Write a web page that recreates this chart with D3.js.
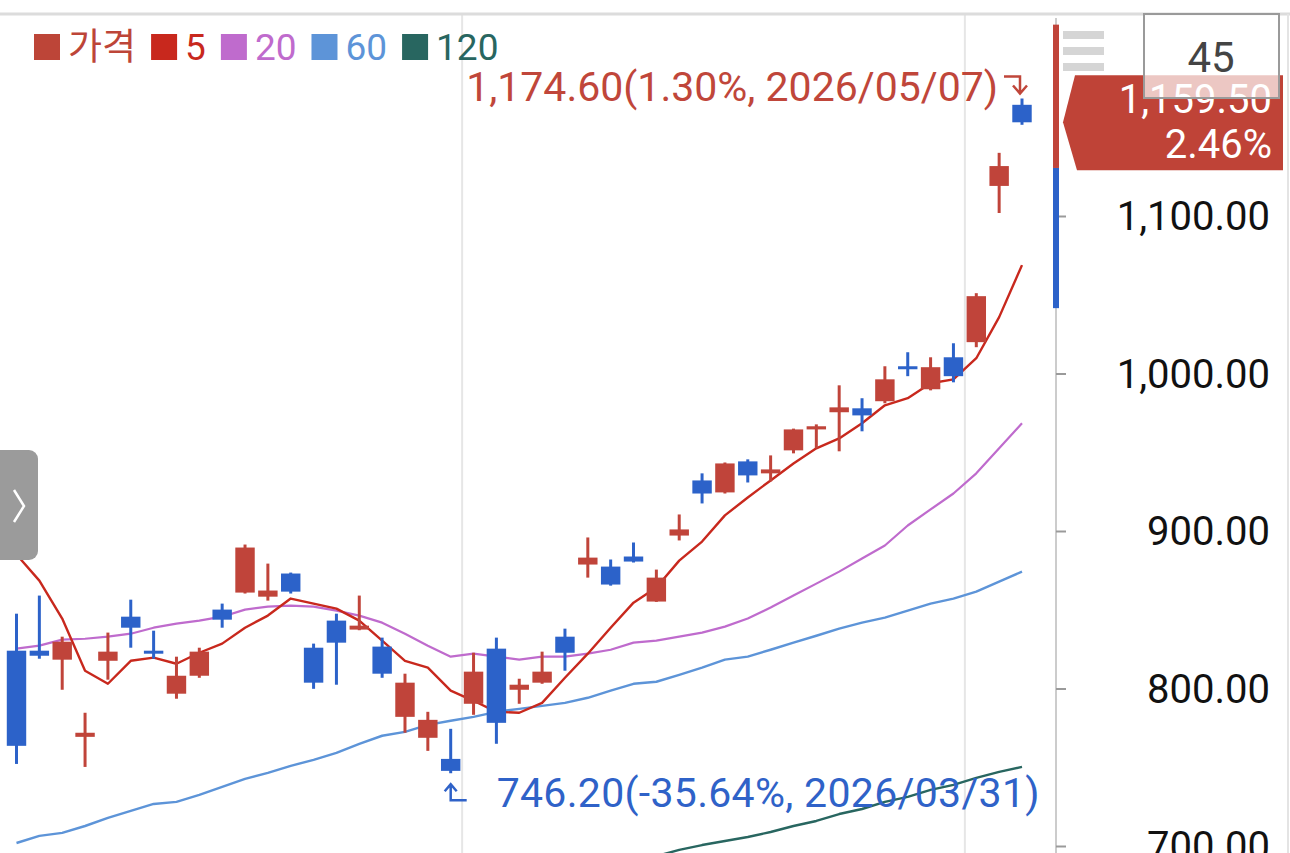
<!DOCTYPE html>
<html>
<head>
<meta charset="utf-8">
<script src="https://cdn.jsdelivr.net/npm/d3@7"></script>
<style>
  html, body { margin: 0; padding: 0; background: #fff; }
  text { font-family: Roboto, "Noto Sans CJK KR", "Noto Sans", sans-serif; }
</style>
</head>
<body>
<div id="canvas"></div>
<script>
"use strict"

let svgWidth = 1290
let svgHeight = 853

// trading days shown (45 candles)
let dates = ["2026-03-04", "2026-03-05", "2026-03-06", "2026-03-09", "2026-03-10", "2026-03-11", "2026-03-12", "2026-03-13",
    "2026-03-16", "2026-03-17", "2026-03-18", "2026-03-19", "2026-03-20", "2026-03-23", "2026-03-24", "2026-03-25",
    "2026-03-26", "2026-03-27", "2026-03-30", "2026-03-31", "2026-04-01", "2026-04-02", "2026-04-03", "2026-04-06",
    "2026-04-07", "2026-04-08", "2026-04-09", "2026-04-10", "2026-04-13", "2026-04-14", "2026-04-15", "2026-04-16",
    "2026-04-17", "2026-04-20", "2026-04-21", "2026-04-22", "2026-04-23", "2026-04-24", "2026-04-27", "2026-04-28",
    "2026-04-29", "2026-04-30", "2026-05-04", "2026-05-06", "2026-05-07"]

let opens = [824.0, 824.0, 818.3, 769.3, 817.6, 845.6, 824.0, 796.7, 808.1, 850.1, 860.9, 858.3, 873.0, 825.9, 843.1,
    837.4, 826.6, 782.0, 768.7, 755.3, 790.3, 825.3, 799.2, 803.7, 832.9, 878.7, 877.4, 883.8, 855.2, 897.1,
    932.1, 924.5, 944.2, 936.6, 951.2, 964.5, 975.4, 977.9, 982.4, 1004.6, 990.0, 1010.3, 1019.9, 1119.1, 1170.6]
let highs = [847.5, 859.0, 832.9, 784.6, 835.5, 856.4, 836.7, 820.2, 825.9, 853.9, 891.4, 879.3, 873.6, 828.5, 847.5,
    859.0, 832.3, 809.4, 785.2, 774.4, 822.7, 832.3, 806.2, 823.4, 838.0, 895.9, 881.9, 892.7, 875.5, 910.5,
    936.6, 943.5, 945.5, 948.0, 965.0, 967.7, 992.5, 984.3, 1004.6, 1013.5, 1010.3, 1019.2, 1051.0, 1140.1, 1174.6]
let lows = [752.1, 818.9, 799.2, 750.2, 805.6, 825.9, 818.9, 793.5, 806.8, 838.6, 860.3, 855.8, 860.3, 799.8, 802.4,
    837.0, 806.8, 771.9, 760.4, 746.2, 783.3, 764.9, 790.3, 803.0, 811.3, 870.4, 865.3, 880.0, 855.0, 894.0,
    917.5, 923.8, 930.8, 931.5, 949.3, 952.5, 950.6, 963.3, 981.1, 998.3, 989.3, 994.4, 1016.7, 1101.9, 1157.9]
let closes = [763.6, 820.8, 829.7, 771.9, 823.4, 838.6, 822.1, 808.1, 823.4, 843.7, 889.5, 862.2, 861.5, 803.7, 829.1,
    839.9, 809.4, 803.7, 780.1, 747.7, 810.7, 778.2, 802.4, 810.7, 822.7, 883.1, 866.0, 880.6, 870.4, 901.0,
    923.8, 942.9, 935.3, 939.1, 964.5, 966.5, 978.5, 973.4, 996.3, 1002.7, 1004.0, 998.3, 1049.1, 1131.7, 1159.5]

// moving averages
let ma5 = [885.1, 868.5, 844.4, 811.3, 803.0, 817.6, 819.6, 815.7, 822.7, 828.5, 838.6, 846.3, 857.1, 853.9, 850.7,
    843.1, 830.4, 817.6, 813.2, 798.6, 792.2, 785.2, 784.6, 790.9, 806.8, 822.1, 838.6, 854.5, 864.1, 881.2,
    893.3, 909.9, 921.3, 932.1, 942.9, 952.5, 958.8, 968.4, 979.8, 984.3, 993.8, 996.3, 1009.7, 1035.8, 1068.8]
let ma20 = [825.3, 827.2, 831.0, 831.6, 832.9, 834.8, 838.6, 841.2, 843.1, 845.6, 850.1, 852.0, 852.6, 852.0, 849.4,
    846.3, 841.8, 834.8, 827.2, 820.2, 822.1, 820.2, 818.3, 820.2, 820.2, 822.1, 824.6, 829.1, 830.4, 832.9,
    835.5, 839.3, 844.4, 851.4, 859.0, 866.6, 874.2, 882.5, 890.8, 903.5, 913.7, 923.8, 936.6, 952.5, 968.4]
let ma60 = [701.9, 706.4, 708.3, 712.7, 717.8, 722.3, 726.7, 728.0, 732.4, 737.5, 742.6, 746.4, 750.9, 754.7, 759.1,
    764.9, 770.0, 772.5, 776.9, 779.5, 782.0, 785.2, 787.1, 789.0, 790.9, 794.1, 798.6, 803.0, 804.3, 808.7,
    813.2, 818.3, 820.2, 824.6, 829.1, 833.5, 838.0, 841.8, 845.0, 849.4, 853.9, 857.1, 861.5, 867.9, 874.2]
let ma120 = [null, null, null, null, null, null, null, null, null, null, null, null, null, null, null,
    null, null, null, null, null, null, null, null, null, null, null, 686.6, 689.8, 693.6, 697.5,
    700.6, 703.2, 705.7, 708.9, 712.7, 715.9, 720.3, 723.5, 728.0, 731.2, 735.6, 738.8, 743.2, 747.1, 750.2]

let yTicks = [700, 800, 900, 1000, 1100]

let legendNames = ["가격", "5", "20", "60", "120"]
let legendColors = ["#bd4538", "#c8281d", "#bf6bcd", "#5d94d8", "#286660"]

// side bar (blue / red split) next to the axis
let sideBar = [
    { from: 1041.5, to: 1130.5, up: false },
    { from: 1130.5, to: 1221.5, up: true }
]

let periodCount = "45"

let upColor = "#c0443a"
let downColor = "#2c62c9"

let svg = d3.select("#canvas")
    .append("svg")
    .attr("width", svgWidth)
    .attr("height", svgHeight)

svg.append("rect")
    .attr("width", svgWidth)
    .attr("height", svgHeight)
    .attr("fill", "#fff")

// scales
let xScale = d3.scalePoint()
    .domain(dates)
    .range([16.5, 1022])

let step = xScale.step()
let bodyWidth = step * 0.85

let yScale = d3.scaleLinear()
    .domain([700, 1100])
    .range([846, 216])

let candles = dates.map(function (d, i) {
    return { date: d, open: opens[i], high: highs[i], low: lows[i], close: closes[i] }
})

// month separators
let gridGroup = svg.append("g")
for (let i = 1; i < dates.length; i++) {
    if (dates[i].slice(5, 7) !== dates[i - 1].slice(5, 7)) {
        let gx = (xScale(dates[i - 1]) + xScale(dates[i])) / 2
        gridGroup.append("line")
            .attr("x1", gx).attr("x2", gx)
            .attr("y1", 14).attr("y2", svgHeight)
            .attr("stroke", "#e6e6e6")
            .attr("stroke-width", 2)
    }
}

// top border
svg.append("line")
    .attr("x1", 0).attr("x2", svgWidth)
    .attr("y1", 14).attr("y2", 14)
    .attr("stroke", "#dcdcdc")
    .attr("stroke-width", 3)

// right edge line
svg.append("line")
    .attr("x1", 1288).attr("x2", 1288)
    .attr("y1", 14).attr("y2", svgHeight)
    .attr("stroke", "#e4e4e4")
    .attr("stroke-width", 2)

// right axis
let axisX = 1056
svg.append("line")
    .attr("x1", axisX).attr("x2", axisX)
    .attr("y1", 18).attr("y2", svgHeight)
    .attr("stroke", "#cccccc")
    .attr("stroke-width", 2)

let axis = d3.axisRight(yScale)
    .tickValues(yTicks)
    .tickSize(10)
    .tickFormat("")

let axisG = svg.append("g")
    .attr("transform", `translate(${axisX},0)`)
    .call(axis)
axisG.select(".domain").remove()
axisG.selectAll(".tick line")
    .attr("stroke", "#9a9a9a")
    .attr("stroke-width", 2)

let fmt = d3.format(",.2f")
svg.selectAll("text.ylabel")
    .data(yTicks)
    .join("text")
    .attr("class", "ylabel")
    .attr("x", 1270)
    .attr("y", function (d) { return yScale(d) })
    .attr("dy", "0.36em")
    .attr("text-anchor", "end")
    .attr("font-size", 40)
    .attr("fill", "#111")
    .text(function (d) { return fmt(d) })

// side bar
svg.selectAll("rect.sidebar")
    .data(sideBar)
    .join("rect")
    .attr("class", "sidebar")
    .attr("x", axisX - 3)
    .attr("width", 6)
    .attr("y", function (d) { return yScale(d.to) })
    .attr("height", function (d) { return yScale(d.from) - yScale(d.to) })
    .attr("fill", function (d) { return d.up ? upColor : downColor })

// chart area clip
svg.append("clipPath")
    .attr("id", "plotClip")
    .append("rect")
    .attr("x", 0).attr("y", 16)
    .attr("width", 1050).attr("height", svgHeight - 16)

let plot = svg.append("g").attr("clip-path", "url(#plotClip)")

// moving averages
let lineGen = d3.line()
    .defined(function (d) { return d.v != null })
    .x(function (d) { return xScale(d.date) })
    .y(function (d) { return yScale(d.v) })

let maSeries = [
    { values: ma120, color: legendColors[4], width: 2.4 },
    { values: ma60, color: legendColors[3], width: 2.4 },
    { values: ma20, color: legendColors[2], width: 2.2 },
    { values: ma5, color: legendColors[1], width: 2.4 }
]

maSeries.forEach(function (s) {
    let pts = dates.map(function (d, i) { return { date: d, v: s.values[i] } })
    plot.append("path")
        .attr("d", lineGen(pts))
        .attr("fill", "none")
        .attr("stroke", s.color)
        .attr("stroke-width", s.width)
        .attr("stroke-linejoin", "round")
})

// candles
let candleG = plot.selectAll("g.candle")
    .data(candles)
    .join("g")
    .attr("class", "candle")

candleG.append("line")
    .attr("x1", function (d) { return xScale(d.date) })
    .attr("x2", function (d) { return xScale(d.date) })
    .attr("y1", function (d) { return yScale(d.high) })
    .attr("y2", function (d) { return yScale(d.low) })
    .attr("stroke", function (d) { return d.close >= d.open ? upColor : downColor })
    .attr("stroke-width", 3)

candleG.append("rect")
    .attr("x", function (d) { return xScale(d.date) - bodyWidth / 2 })
    .attr("width", bodyWidth)
    .attr("y", function (d) { return yScale(Math.max(d.open, d.close)) })
    .attr("height", function (d) {
        return Math.max(3, Math.abs(yScale(d.open) - yScale(d.close)))
    })
    .attr("fill", function (d) { return d.close >= d.open ? upColor : downColor })

// high / low annotations
let last = candles[candles.length - 1]
let hiC = candles.reduce(function (a, b) { return b.high > a.high ? b : a })
let loC = candles.reduce(function (a, b) { return b.low < a.low ? b : a })

function pct(v) {
    return ((v - last.close) / last.close * 100).toFixed(2)
}

let hx = xScale(hiC.date)
let hy = yScale(hiC.high)
svg.append("text")
    .attr("x", hx - 24)
    .attr("y", hy + 2)
    .attr("text-anchor", "end")
    .attr("font-size", 41)
    .attr("fill", "#c0463a")
    .text(fmt(hiC.high) + "(" + pct(hiC.high) + "%, " + hiC.date.replace(/-/g, "/") + ")")

svg.append("path")
    .attr("d", `M${hx - 18},${hy - 22} H${hx - 2} V${hy - 5} M${hx - 9},${hy - 13} L${hx - 2},${hy - 5} L${hx + 5},${hy - 13}`)
    .attr("fill", "none")
    .attr("stroke", "#c0463a")
    .attr("stroke-width", 2.5)

let lx = xScale(loC.date)
let ly = yScale(loC.low)
svg.append("text")
    .attr("x", lx + 46)
    .attr("y", ly + 34)
    .attr("font-size", 41)
    .attr("letter-spacing", 0.3)
    .attr("fill", "#2f62c8")
    .text(fmt(loC.low) + "(" + pct(loC.low) + "%, " + loC.date.replace(/-/g, "/") + ")")

svg.append("path")
    .attr("d", `M${lx},${ly + 11} V${ly + 27} H${lx + 16} M${lx - 6},${ly + 18} L${lx},${ly + 11} L${lx + 6},${ly + 18}`)
    .attr("fill", "none")
    .attr("stroke", "#2f62c8")
    .attr("stroke-width", 2.5)

// current price tag
let py = yScale(last.close)
let prev = candles[candles.length - 2].close
let change = ((last.close - prev) / prev * 100).toFixed(2)

svg.append("path")
    .attr("d", `M1063,${py} L1075,${py - 47} H1283 V${py + 48} H1077 Z`)
    .attr("fill", "#bf4337")

svg.append("text")
    .attr("x", 1272).attr("y", py - 9)
    .attr("text-anchor", "end")
    .attr("font-size", 40)
    .attr("fill", "#fff")
    .text(fmt(last.close))

svg.append("text")
    .attr("x", 1272).attr("y", py + 36)
    .attr("text-anchor", "end")
    .attr("font-size", 40)
    .attr("fill", "#fff")
    .text(change + "%")

// menu icon
for (let i = 0; i < 3; i++) {
    svg.append("rect")
        .attr("x", 1063).attr("y", 31 + i * 16)
        .attr("width", 41).attr("height", 8)
        .attr("fill", "#d5d5d5")
}

// period box
svg.append("rect")
    .attr("x", 1144).attr("y", 14)
    .attr("width", 135).attr("height", 84)
    .attr("fill", "rgba(255,255,255,0.7)")
    .attr("stroke", "#9a9a9a")
    .attr("stroke-width", 2)

svg.append("text")
    .attr("x", 1211).attr("y", 72)
    .attr("text-anchor", "middle")
    .attr("font-size", 42)
    .attr("fill", "#444")
    .text(periodCount)

// legend
let lgX = 34
for (let i = 0; i < legendNames.length; i++) {
    svg.append("rect")
        .attr("x", lgX).attr("y", 34)
        .attr("width", 26).attr("height", 26)
        .attr("fill", legendColors[i])
    let t = svg.append("text")
        .attr("x", lgX + 34).attr("y", 60)
        .attr("font-size", 37)
        .attr("fill", legendColors[i])
        .text(legendNames[i])
    lgX = lgX + 34 + t.node().getComputedTextLength() + 15
}

// left slide button
svg.append("rect")
    .attr("x", -12).attr("y", 450)
    .attr("width", 50).attr("height", 110)
    .attr("rx", 9)
    .attr("fill", "#9b9b9b")

svg.append("path")
    .attr("d", "M14,490 L24,506 L14,522")
    .attr("fill", "none")
    .attr("stroke", "#fff")
    .attr("stroke-width", 2.5)
</script>
</body>
</html>
